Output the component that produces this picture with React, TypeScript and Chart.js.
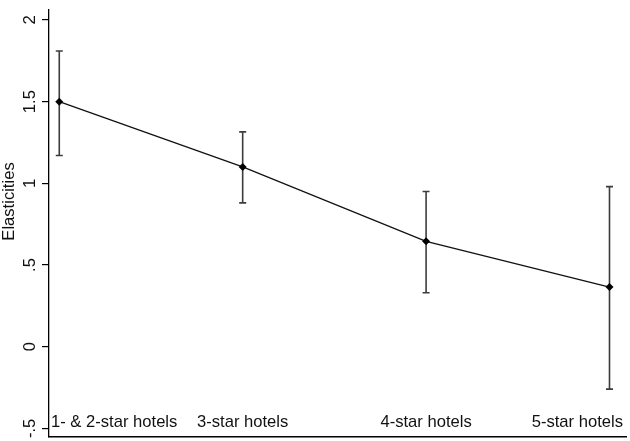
import React, { useEffect, useRef } from "react";
import { Chart, registerables } from "chart.js";

Chart.register(...registerables);

const categories = ["1- & 2-star hotels", "3-star hotels", "4-star hotels", "5-star hotels"];
const xPositions = [1, 2, 3, 4];
const elasticities = [1.5, 1.1, 0.645, 0.365];
const upperCI = [1.81, 1.315, 0.95, 0.98];
const lowerCI = [1.17, 0.88, 0.33, -0.26];
const yTickValues = [-0.5, 0, 0.5, 1, 1.5, 2];
const yTickLabels = ["-.5", "0", ".5", "1", "1.5", "2"];
const yTitle = "Elasticities";

const FONT = '16.6px "Liberation Sans", Arial, sans-serif';
const TEXT_COLOR = "#111";

const errorBarPlugin = {
  id: "errorBars",
  beforeDatasetsDraw(chart: any) {
    const { ctx, scales } = chart;
    const xs = scales.x;
    const ys = scales.y;
    ctx.save();
    ctx.strokeStyle = "#3c3c3c";
    ctx.lineWidth = 1.6;
    xPositions.forEach((xv, i) => {
      const px = xs.getPixelForValue(xv);
      const pu = ys.getPixelForValue(upperCI[i]);
      const pl = ys.getPixelForValue(lowerCI[i]);
      ctx.beginPath();
      ctx.moveTo(px, pu);
      ctx.lineTo(px, pl);
      ctx.moveTo(px - 3.5, pu);
      ctx.lineTo(px + 3.5, pu);
      ctx.moveTo(px - 3.5, pl);
      ctx.lineTo(px + 3.5, pl);
      ctx.stroke();
    });
    ctx.restore();
  },
};

const textPlugin = {
  id: "stataText",
  afterDraw(chart: any) {
    const { ctx, scales, chartArea } = chart;
    const xs = scales.x;
    const ys = scales.y;
    ctx.save();
    ctx.font = FONT;
    ctx.fillStyle = TEXT_COLOR;

    ctx.textBaseline = "alphabetic";
    ctx.textAlign = "left";
    categories.forEach((label, i) => {
      const w = ctx.measureText(label).width;
      let left = xs.getPixelForValue(xPositions[i]) - w / 2;
      left = Math.max(left, chartArea.left + 2);
      left = Math.min(left, chartArea.right - 3 - w);
      ctx.fillText(label, left, chartArea.bottom - 10);
    });

    yTickValues.forEach((v, i) => {
      const py = ys.getPixelForValue(v);
      ctx.save();
      ctx.translate(35, py);
      ctx.rotate(-Math.PI / 2);
      ctx.textAlign = "center";
      ctx.textBaseline = "alphabetic";
      ctx.fillText(yTickLabels[i], 0, 0);
      ctx.restore();
    });

    ctx.save();
    ctx.translate(14, (chartArea.top + chartArea.bottom) / 2 - 22);
    ctx.rotate(-Math.PI / 2);
    ctx.textAlign = "center";
    ctx.textBaseline = "alphabetic";
    ctx.fillText(yTitle, 0, 0);
    ctx.restore();

    ctx.restore();
  },
};

export default function App() {
  const ref = useRef<HTMLCanvasElement>(null);

  useEffect(() => {
    if (!ref.current) return;
    const chart = new Chart(ref.current, {
      type: "line",
      data: {
        datasets: [
          {
            data: xPositions.map((x, i) => ({ x, y: elasticities[i] })),
            borderColor: "#111",
            borderWidth: 1.3,
            pointStyle: "rectRot",
            pointRadius: 4,
            pointBackgroundColor: "#000",
            pointBorderColor: "#000",
            pointBorderWidth: 0,
            tension: 0,
          },
        ],
      },
      options: {
        animation: false,
        responsive: false,
        devicePixelRatio: 1,
        layout: { padding: { left: 42, top: 10, right: 1, bottom: 3 } },
        plugins: {
          legend: { display: false },
          tooltip: { enabled: false },
        },
        scales: {
          x: {
            type: "linear",
            min: 0.944,
            max: 4.09,
            ticks: { display: false },
            grid: { display: false, drawTicks: false },
            border: { display: true, color: "#000", width: 1.5 },
          },
          y: {
            type: "linear",
            min: -0.553,
            max: 2.061,
            afterBuildTicks: (scale: any) => {
              scale.ticks = yTickValues.map((v) => ({ value: v }));
            },
            ticks: { display: false },
            grid: {
              display: true,
              drawOnChartArea: false,
              drawTicks: true,
              tickLength: 7,
              color: "#000",
              lineWidth: 1.2,
            },
            border: { display: true, color: "#000", width: 1.3 },
          },
        },
      },
      plugins: [errorBarPlugin, textPlugin],
    });
    return () => chart.destroy();
  }, []);

  return (
    <div style={{ position: "absolute", left: 0, top: 0, width: 630, height: 441, background: "#fff" }}>
      <canvas ref={ref} width={630} height={441} style={{ display: "block" }} />
    </div>
  );
}
